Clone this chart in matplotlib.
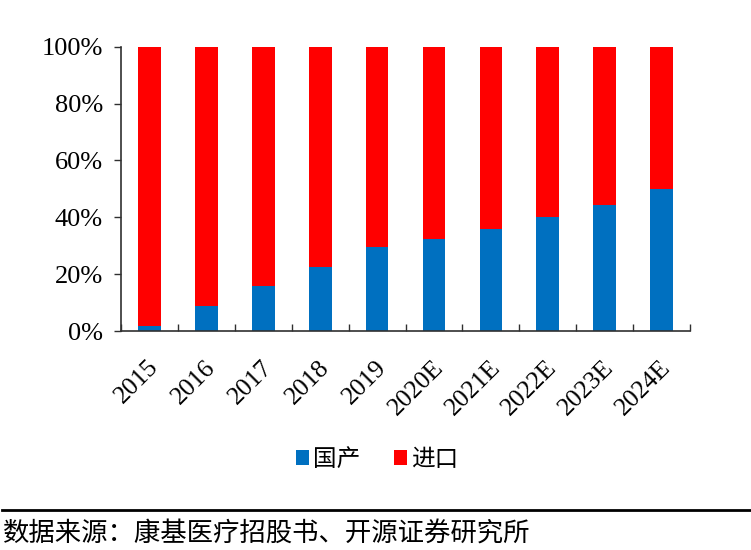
import numpy as np
import matplotlib.pyplot as plt
import matplotlib.transforms as mtransforms
from matplotlib.ticker import PercentFormatter

years = ['2015', '2016', '2017', '2018', '2019', '2020E', '2021E', '2022E', '2023E', '2024E']
guochan = [1.8, 9.0, 15.8, 22.6, 29.6, 32.4, 35.9, 40.1, 44.4, 49.8]
jinkou = [100 - v for v in guochan]

num_font = 'Liberation Serif'
cjk = ['Noto Sans CJK SC', 'DejaVu Sans']

fig = plt.figure(figsize=(7.51, 5.5), dpi=100)
ax = fig.add_axes([0.161, 0.398, 0.758, 0.517])

x = np.arange(len(years))
ax.bar(x, guochan, width=0.4, color='#0070C0', label='国产')
ax.bar(x, jinkou, width=0.4, bottom=guochan, color='#FF0000', label='进口')

ax.set_xlim(-0.5, len(years) - 0.5)
ax.set_ylim(0, 100)
ax.set_yticks(np.arange(0, 101, 20))
ax.yaxis.set_major_formatter(PercentFormatter(decimals=0))
ax.set_xticks(x)
ax.set_xticklabels(years, rotation=45, ha='right', va='top', rotation_mode='anchor')
ax.set_xticks(np.arange(-0.5, len(years), 1), minor=True)
ax.tick_params(axis='x', which='major', length=0, pad=18)
ax.tick_params(axis='x', which='minor', direction='in', length=5, width=1, color='#303030')
ax.tick_params(axis='y', direction='out', length=5, width=1, color='#303030', pad=8)
for lab in ax.get_yticklabels():
    lab.set_fontfamily(num_font)
    lab.set_fontsize(19)
shift = mtransforms.ScaledTranslation(-2 / 100, 0, fig.dpi_scale_trans)
for lab in ax.get_xticklabels():
    lab.set_fontfamily(num_font)
    lab.set_fontsize(18.5)
    lab.set_transform(lab.get_transform() + shift)

for s in ['top', 'right']:
    ax.spines[s].set_visible(False)
for s in ['left', 'bottom']:
    ax.spines[s].set_color('#303030')
    ax.spines[s].set_linewidth(1.2)

fig.legend(loc='center', bbox_to_anchor=(0.502, 0.165), ncol=2, frameon=False,
           prop={'family': cjk, 'size': 17}, handlelength=0.55, handleheight=0.55,
           handletextpad=0.2, columnspacing=1.4)

fig.add_artist(plt.Line2D([0.003, 1], [0.0736, 0.0736], color='black', linewidth=2))
fig.text(0.004, 0.029, '数据来源：康基医疗招股书、开源证券研究所', fontsize=19,
         family=cjk, ha='left', va='center')

fig.savefig('out.png', dpi=100)
